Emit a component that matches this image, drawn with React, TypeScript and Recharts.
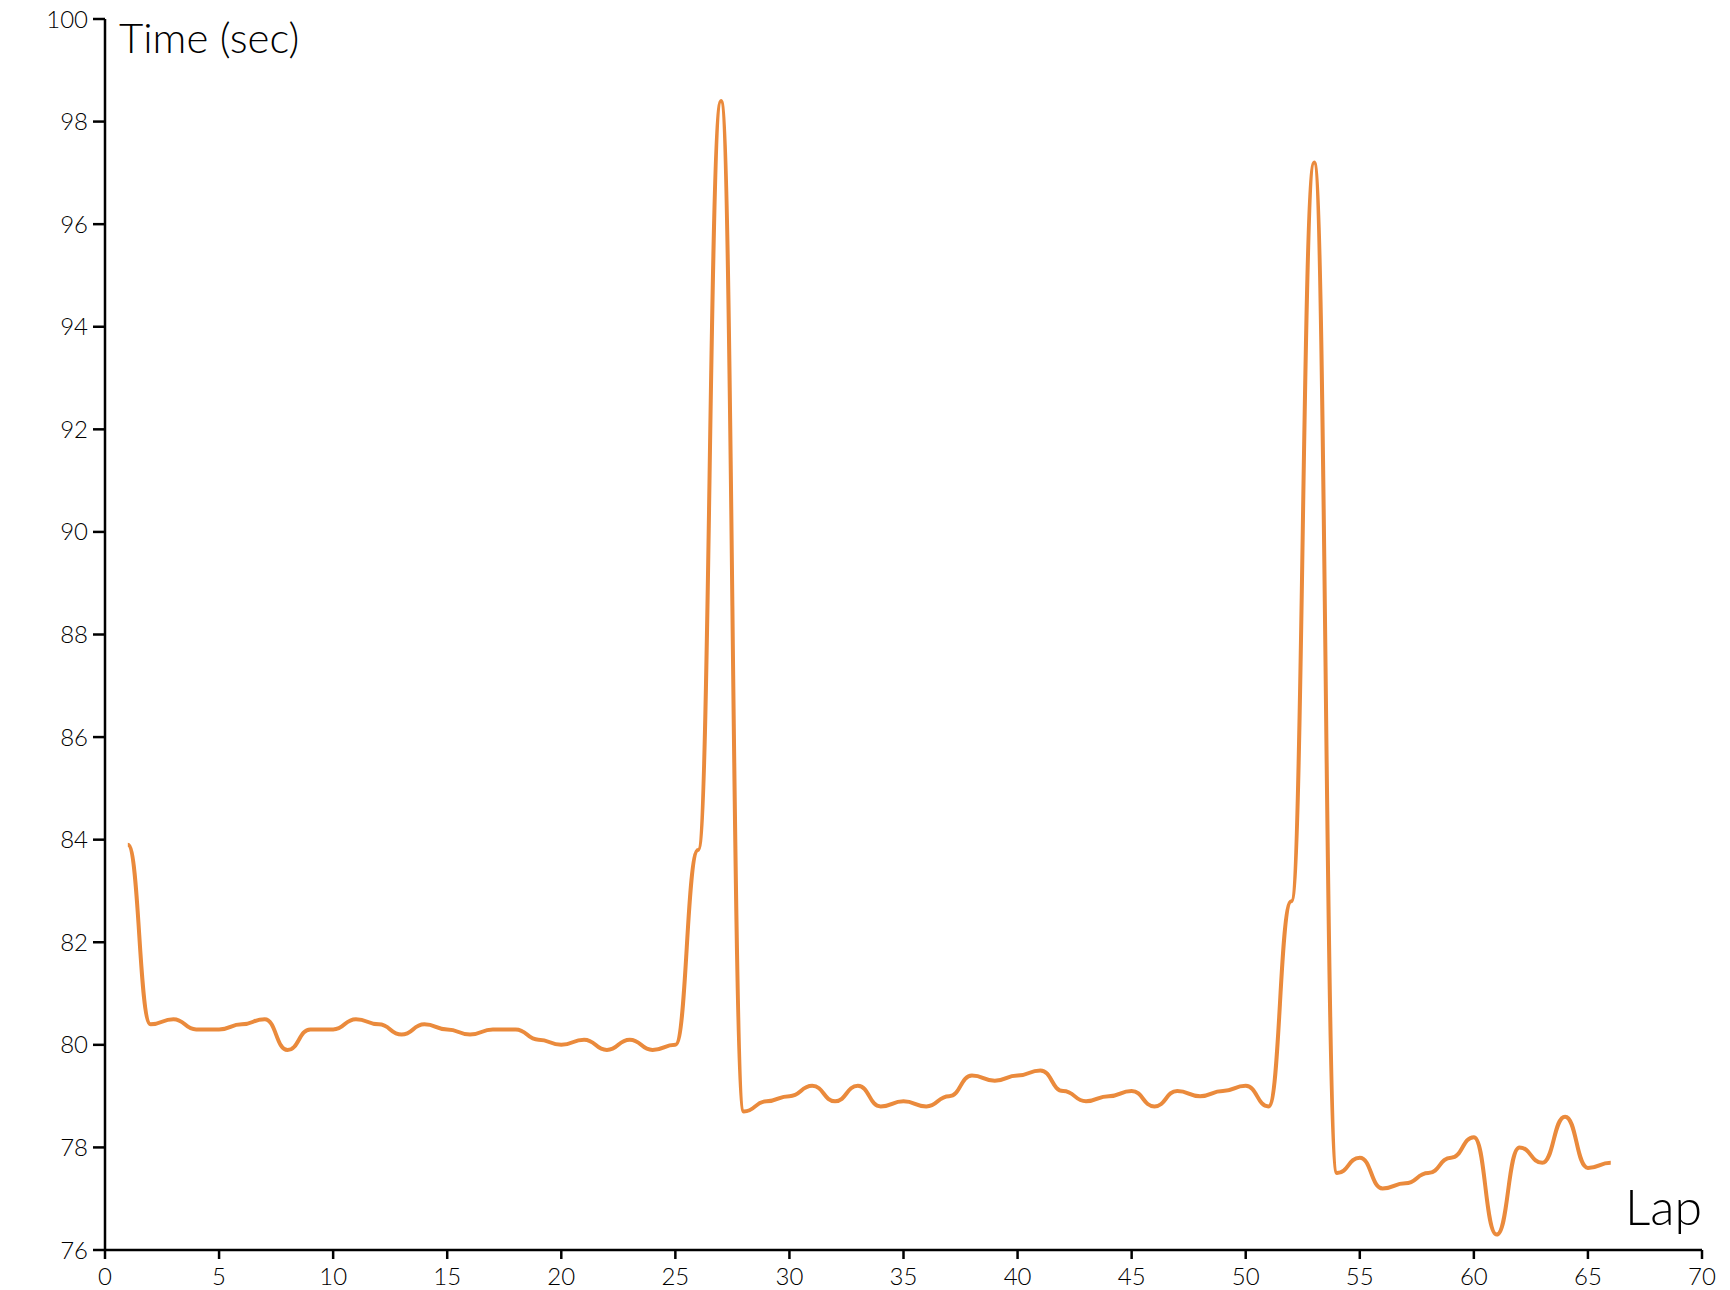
import React from 'react';
import { LineChart, Line, XAxis, YAxis } from 'recharts';

const laps = [
  1, 2, 3, 4, 5, 6, 7, 8, 9, 10, 11, 12, 13, 14, 15, 16, 17, 18, 19, 20, 21, 22,
  23, 24, 25, 26, 27, 28, 29, 30, 31, 32, 33, 34, 35, 36, 37, 38, 39, 40, 41, 42,
  43, 44, 45, 46, 47, 48, 49, 50, 51, 52, 53, 54, 55, 56, 57, 58, 59, 60, 61, 62,
  63, 64, 65, 66,
];

const lapTimes = [
  83.9, 80.4, 80.5, 80.3, 80.3, 80.4, 80.5, 79.9, 80.3, 80.3,
  80.5, 80.4, 80.2, 80.4, 80.3, 80.2, 80.3, 80.3, 80.1, 80.0,
  80.1, 79.9, 80.1, 79.9, 80.0, 83.8, 98.4, 78.7, 78.9, 79.0,
  79.2, 78.9, 79.2, 78.8, 78.9, 78.8, 79.0, 79.4, 79.3, 79.4,
  79.5, 79.1, 78.9, 79.0, 79.1, 78.8, 79.1, 79.0, 79.1, 79.2,
  78.8, 82.8, 97.2, 77.5, 77.8, 77.2, 77.3, 77.5, 77.8, 78.2,
  76.3, 78.0, 77.7, 78.6, 77.6, 77.7,
];

const xTicks = [0, 5, 10, 15, 20, 25, 30, 35, 40, 45, 50, 55, 60, 65, 70];
const yTicks = [76, 78, 80, 82, 84, 86, 88, 90, 92, 94, 96, 98, 100];

const yTitle = 'Time (sec)';
const xTitle = 'Lap';

const data = laps.map((lap, i) => ({ lap, time: lapTimes[i] }));

const FONT = 'Lato, "Noto Sans", sans-serif';
const W = 1722;
const H = 1282;

export default function App() {
  const axisStyle = { stroke: '#000', strokeWidth: 2.5 };
  const tickStyle = { fill: '#000', fontSize: 24, fontFamily: FONT, fontWeight: 300 };
  return (
    <div style={{ position: 'relative', width: W, height: H, background: '#fff' }}>
      <LineChart
        width={W}
        height={H}
        data={data}
        margin={{ top: 11, right: 28, bottom: 0, left: 7 }}
        style={{ overflow: 'visible' }}
      >
        <XAxis
          dataKey="lap"
          type="number"
          domain={[0, 70]}
          ticks={xTicks}
          interval={0}
          height={40}
          tickSize={9}
          tickMargin={9}
          axisLine={axisStyle}
          tickLine={axisStyle}
          tick={tickStyle}
        />
        <YAxis
          dataKey="time"
          type="number"
          domain={[76, 100]}
          ticks={yTicks}
          interval={0}
          width={90}
          tickSize={12}
          tickMargin={5}
          axisLine={axisStyle}
          tickLine={axisStyle}
          tick={tickStyle}
        />
        <Line
          type="bumpX"
          dataKey="time"
          stroke="#EA8A3C"
          strokeWidth={4}
          dot={false}
          activeDot={false}
          isAnimationActive={false}
        />
      </LineChart>
      <svg
        width={W}
        height={H}
        style={{ position: 'absolute', left: 0, top: 0, pointerEvents: 'none' }}
      >
        <text x={111} y={45} fontSize={42} fontFamily={FONT} fontWeight={300} fill="#000">
          {yTitle}
        </text>
        <text x={1694} y={1217} fontSize={50} fontFamily={FONT} fontWeight={300} fill="#000" textAnchor="end">
          {xTitle}
        </text>
      </svg>
    </div>
  );
}
